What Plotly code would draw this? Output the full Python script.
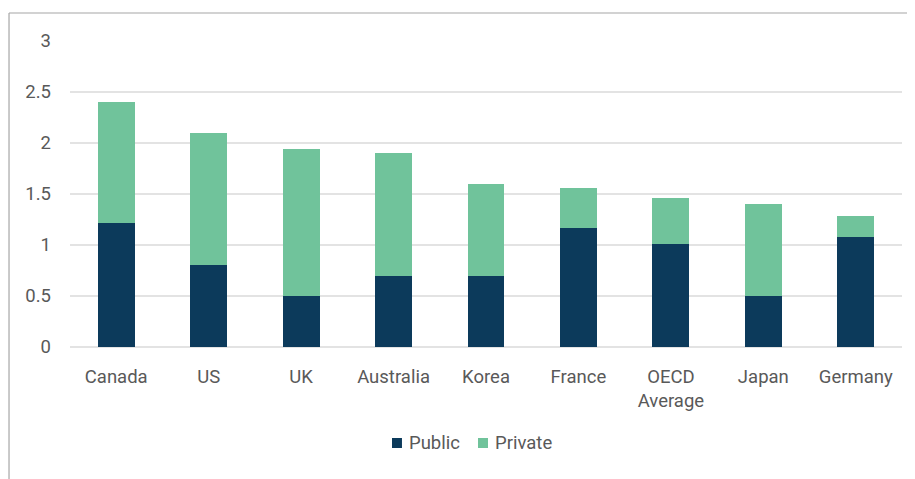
import plotly.graph_objects as go

countries = ["Canada", "US", "UK", "Australia", "Korea", "France", "OECD<br>Average", "Japan", "Germany"]
public = [1.22, 0.80, 0.50, 0.70, 0.70, 1.17, 1.01, 0.50, 1.08]
private = [1.18, 1.30, 1.44, 1.20, 0.90, 0.39, 0.45, 0.90, 0.20]

PUBLIC_COLOR = "#0c3a5b"
PRIVATE_COLOR = "#70c39b"
TEXT_COLOR = "#595959"

fig = go.Figure()
fig.add_trace(go.Bar(x=countries, y=public, name="Public", marker_color=PUBLIC_COLOR, marker_line_width=0))
fig.add_trace(go.Bar(x=countries, y=private, name="Private", marker_color=PRIVATE_COLOR, marker_line_width=0))

# grey frame along the top and left edge
fig.add_shape(type="line", xref="paper", yref="paper", x0=-0.0733, x1=1.03, y0=1.0915, y1=1.0915,
              line=dict(color="#a6a6a6", width=1.2))
fig.add_shape(type="line", xref="paper", yref="paper", x0=-0.0733, x1=-0.0733, y0=1.0915, y1=-0.44,
              line=dict(color="#a6a6a6", width=1.2))

# legend drawn by hand so the swatch/text spacing matches the original
legend_items = [("Public", PUBLIC_COLOR, 0.3870), ("Private", PRIVATE_COLOR, 0.4904)]
for label, color, x0 in legend_items:
    fig.add_shape(type="rect", xref="paper", yref="paper", x0=x0, x1=x0 + 0.012,
                  y0=-0.3301, y1=-0.2974, fillcolor=color, line_width=0)
    fig.add_annotation(xref="paper", yref="paper", x=x0 + 0.0185, y=-0.3137, text=label,
                       showarrow=False, xanchor="left", yanchor="middle",
                       font=dict(size=18.5, color=TEXT_COLOR))

# the page body has an 8px margin, so the figure is drawn 8px in from the top/left
fig.update_layout(
    width=907, height=471,
    barmode="stack",
    bargap=0.6,
    showlegend=False,
    plot_bgcolor="white",
    paper_bgcolor="white",
    margin=dict(l=62, r=13, t=33, b=132),
    font=dict(family="Roboto", size=18.5, color=TEXT_COLOR),
    xaxis=dict(showgrid=False, showline=False, ticklabelstandoff=16),
    yaxis=dict(range=[0, 3], dtick=0.5, showgrid=True, gridcolor="#e3e3e3", gridwidth=1.5,
               zeroline=True, zerolinecolor="#e3e3e3", zerolinewidth=1.5, ticklabelstandoff=18),
)

fig.write_html("out.html")
